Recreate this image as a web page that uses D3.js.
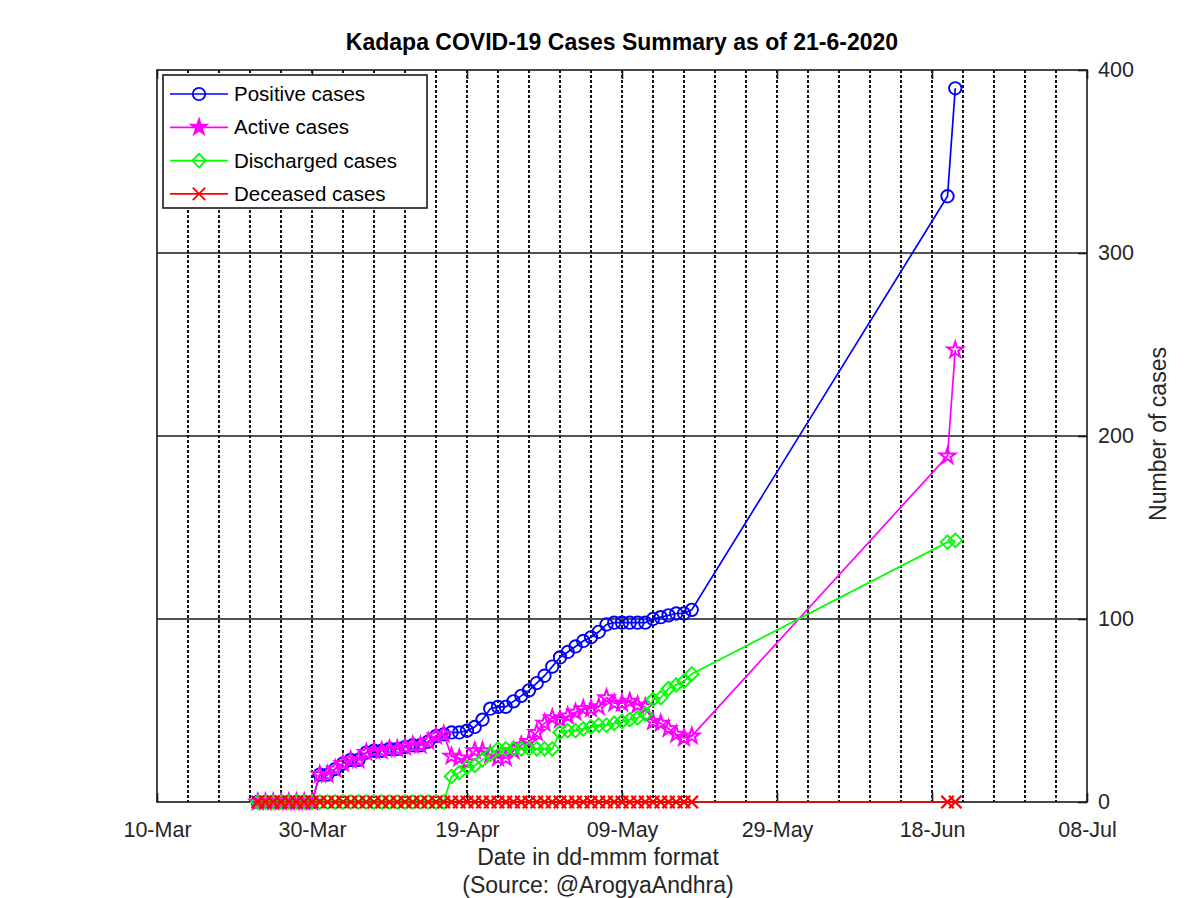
<!DOCTYPE html>
<html>
<head>
<meta charset="utf-8">
<script src="https://cdn.jsdelivr.net/npm/d3@7"></script>
<style>
  html, body { margin: 0; padding: 0; background: #ffffff; }
  svg { display: block; font-family: "Liberation Sans", Arial, Helvetica, sans-serif; }
</style>
</head>
<body>
<svg id="chart" width="1200" height="898"></svg>
<script>
// ---------------- DATA ----------------
const dates = [
  "2020-03-23","2020-03-24","2020-03-25","2020-03-26","2020-03-27","2020-03-28","2020-03-29","2020-03-30",
  "2020-03-31","2020-04-01","2020-04-02","2020-04-03","2020-04-04","2020-04-05","2020-04-06","2020-04-07",
  "2020-04-08","2020-04-09","2020-04-10","2020-04-11","2020-04-12","2020-04-13","2020-04-14","2020-04-15",
  "2020-04-16","2020-04-17","2020-04-18","2020-04-19","2020-04-20","2020-04-21","2020-04-22","2020-04-23",
  "2020-04-24","2020-04-25","2020-04-26","2020-04-27","2020-04-28","2020-04-29","2020-04-30","2020-05-01",
  "2020-05-02","2020-05-03","2020-05-04","2020-05-05","2020-05-06","2020-05-07","2020-05-08","2020-05-09",
  "2020-05-10","2020-05-11","2020-05-12","2020-05-13","2020-05-14","2020-05-15","2020-05-16","2020-05-17",
  "2020-05-18","2020-06-20","2020-06-21"
];
const positive = [
  0,0,0,0,0,0,0,0,
  15,15,18,21,23,23,27,28,
  28,29,29,30,31,31,33,36,
  37,38,38,39,41,45,51,52,
  52,55,58,61,65,69,74,79,
  82,85,88,90,93,97,98,98,
  98,98,98,100,101,102,103,103,
  105,331,390
];
const active = [
  0,0,0,0,0,0,0,0,
  15,15,18,21,23,23,27,28,
  28,29,29,30,31,31,33,36,
  37,25,24,22,28,28,26,24,
  24,28,31,33,38,43,46,45,
  47,49,51,51,52,57,54,54,
  55,53,52,44,43,40,37,35,
  36,189,247
];
const discharged = [
  0,0,0,0,0,0,0,0,
  0,0,0,0,0,0,0,0,
  0,0,0,0,0,0,0,0,
  0,14,16,19,20,23,26,29,
  29,29,29,29,29,29,29,38,
  39,39,40,41,42,42,43,44,
  45,46,48,56,57,62,64,66,
  70,142,143
];
const deceased = [
  0,0,0,0,0,0,0,0,
  0,0,0,0,0,0,0,0,
  0,0,0,0,0,0,0,0,
  0,0,0,0,0,0,0,0,
  0,0,0,0,0,0,0,0,
  0,0,0,0,0,0,0,0,
  0,0,0,0,0,0,0,0,
  0,0,0
];
const seriesNames = ["Positive cases","Active cases","Discharged cases","Deceased cases"];
const seriesColors = ["#0000ff","#ff00ff","#00ff00","#ff0000"];
const seriesMarkers = ["circle","star","diamond","cross"];
const xTickLabels = ["10-Mar","30-Mar","19-Apr","09-May","29-May","18-Jun","08-Jul"];
const yTicks = [0,100,200,300,400];
const titleText = "Kadapa COVID-19 Cases Summary as of 21-6-2020";
const xLabelText = "Date in dd-mmm format";
const sourceText = "(Source: @ArogyaAndhra)";
const yLabelText = "Number of cases";

(function () {
// ---------------- LAYOUT ----------------
const svg = d3.select("#chart");
const pL = 157, pR = 1087, pT = 70, pB = 802;
const parse = d3.utcParse("%Y-%m-%d");
const x0 = parse("2020-03-10"), x1 = parse("2020-07-08");
const x = d3.scaleUtc().domain([x0, x1]).range([pL, pR]);
const y = d3.scaleLinear().domain([0, 400]).range([pB, pT]);
const fmt = d3.utcFormat("%d-%b");

svg.append("rect").attr("x",0).attr("y",0).attr("width",1200).attr("height",898).attr("fill","#fff");

// vertical dotted grid every 4 days
const gridDates = d3.range(4, 120, 4).map(k => d3.utcDay.offset(x0, k));
svg.append("g").selectAll("line").data(gridDates).join("line")
  .attr("x1", d => x(d)).attr("x2", d => x(d))
  .attr("y1", pT).attr("y2", pB)
  .attr("stroke", "#111").attr("stroke-width", 2)
  .attr("stroke-dasharray", "3,2");

// horizontal solid grid
svg.append("g").selectAll("line").data(yTicks.slice(1, -1)).join("line")
  .attr("x1", pL).attr("x2", pR)
  .attr("y1", d => y(d)).attr("y2", d => y(d))
  .attr("stroke", "#1a1a1a").attr("stroke-width", 1.6);

// axes
const majorDates = xTickLabels.map((t, i) => d3.utcDay.offset(x0, i * 20));
const xAxis = d3.axisBottom(x).tickValues(majorDates).tickFormat(fmt).tickSize(-9).tickPadding(20);
const gx = svg.append("g").attr("transform", `translate(0,${pB})`).call(xAxis);
gx.select(".domain").remove();
gx.selectAll(".tick line").attr("stroke", "#1a1a1a").attr("stroke-width", 1.6);
gx.selectAll(".tick text").attr("font-size", 21.5).attr("fill", "#262626")
  .attr("font-family", "'Liberation Sans', Arial, sans-serif");

const xAxisTop = d3.axisTop(x).tickValues(majorDates).tickFormat("").tickSize(-9);
const gxt = svg.append("g").attr("transform", `translate(0,${pT})`).call(xAxisTop);
gxt.select(".domain").remove();
gxt.selectAll(".tick line").attr("stroke", "#1a1a1a").attr("stroke-width", 1.6);

const yAxis = d3.axisRight(y).tickValues(yTicks).tickFormat(d3.format("d")).tickSize(-9).tickPadding(11);
const gy = svg.append("g").attr("transform", `translate(${pR},0)`).call(yAxis);
gy.select(".domain").remove();
gy.selectAll(".tick line").attr("stroke", "#1a1a1a").attr("stroke-width", 1.6);
gy.selectAll(".tick text").attr("font-size", 21.5).attr("fill", "#262626")
  .attr("font-family", "'Liberation Sans', Arial, sans-serif");

// box
svg.append("rect").attr("x", pL).attr("y", pT).attr("width", pR-pL).attr("height", pB-pT)
  .attr("fill", "none").attr("stroke", "#1a1a1a").attr("stroke-width", 1.6);

// ---------------- MARKERS ----------------
function markerPath(type) {
  if (type === "circle") {
    const r = 6.2;
    return `M${-r},0A${r},${r} 0 1,0 ${r},0A${r},${r} 0 1,0 ${-r},0Z`;
  }
  if (type === "star") {
    const R = 8.2, r = R * 0.382;
    let p = [];
    for (let i = 0; i < 10; i++) {
      const rad = (i % 2 === 0) ? R : r;
      const a = -Math.PI / 2 + i * Math.PI / 5;
      p.push([rad * Math.cos(a), rad * Math.sin(a)]);
    }
    return "M" + p.map(q => q[0].toFixed(2) + "," + q[1].toFixed(2)).join("L") + "Z";
  }
  if (type === "diamond") {
    const w = 6.8, h = 6.8;
    return `M0,${-h}L${w},0L0,${h}L${-w},0Z`;
  }
  if (type === "cross") {
    const s = 6.2;
    return `M${-s},${-s}L${s},${s}M${-s},${s}L${s},${-s}`;
  }
}

const allSeries = [positive, active, discharged, deceased];
const markerStroke = [1.9, 2.0, 1.9, 2.3];
const parsedDates = dates.map(parse);
const line = d3.line().x(d => x(d.date)).y(d => y(d.v));

allSeries.forEach((vals, si) => {
  const pts = vals.map((v, i) => ({date: parsedDates[i], v}));
  const g = svg.append("g");
  g.append("path").datum(pts).attr("d", line)
    .attr("fill", "none").attr("stroke", seriesColors[si]).attr("stroke-width", 1.7);
  g.selectAll("path.m").data(pts).join("path").attr("class", "m")
    .attr("transform", d => `translate(${x(d.date)},${y(d.v)})`)
    .attr("d", markerPath(seriesMarkers[si]))
    .attr("fill", "none").attr("stroke", seriesColors[si]).attr("stroke-width", markerStroke[si]);
});

// ---------------- LEGEND ----------------
const lg = svg.append("g");
lg.append("rect").attr("x", 163).attr("y", 75).attr("width", 264).attr("height", 133)
  .attr("fill", "#fff").attr("stroke", "#1a1a1a").attr("stroke-width", 1.6);
seriesNames.forEach((name, i) => {
  const cy = 94 + i * 33.3;
  lg.append("line").attr("x1", 170).attr("x2", 228).attr("y1", cy).attr("y2", cy)
    .attr("stroke", seriesColors[i]).attr("stroke-width", 1.7);
  lg.append("path").attr("transform", `translate(199,${cy})`).attr("d", markerPath(seriesMarkers[i]))
    .attr("fill", seriesMarkers[i] === "star" ? seriesColors[i] : "none")
    .attr("stroke", seriesColors[i]).attr("stroke-width", 1.8);
  lg.append("text").attr("x", 234).attr("y", cy).attr("dy", "0.35em")
    .attr("font-size", 20.5).attr("fill", "#000").text(name);
});

// ---------------- TEXTS ----------------
svg.append("text").attr("x", 622).attr("y", 50).attr("text-anchor", "middle")
  .attr("font-size", 23).attr("font-weight", "bold").attr("fill", "#000").text(titleText);
svg.append("text").attr("x", 598).attr("y", 865).attr("text-anchor", "middle")
  .attr("font-size", 23).attr("fill", "#262626").text(xLabelText);
svg.append("text").attr("x", 598).attr("y", 893).attr("text-anchor", "middle")
  .attr("font-size", 23).attr("fill", "#262626").text(sourceText);
svg.append("text").attr("transform", "translate(1166,434) rotate(-90)").attr("text-anchor", "middle")
  .attr("font-size", 23).attr("fill", "#262626").text(yLabelText);
})();
</script>
</body>
</html>
